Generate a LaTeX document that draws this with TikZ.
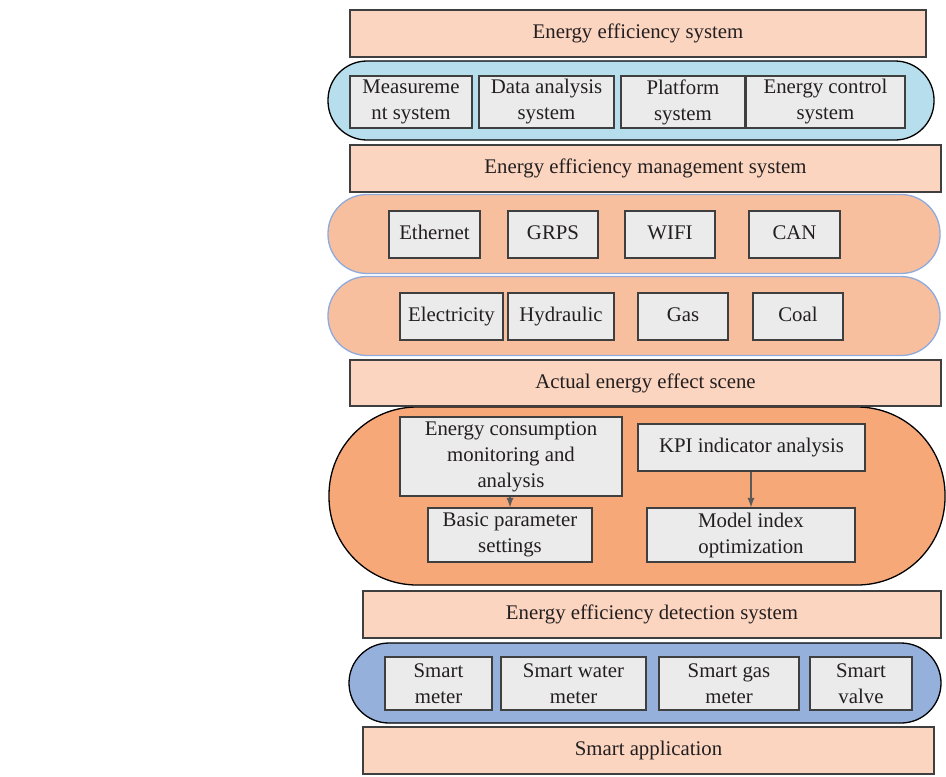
\documentclass[tikz,border=0pt]{standalone}
\usepackage{fontspec}
\setmainfont{Liberation Serif}
\definecolor{barfill}{HTML}{FBD5C0}
\definecolor{bardraw}{HTML}{3F3F3F}
\definecolor{boxfill}{HTML}{EBEBEB}
\definecolor{pillblue}{HTML}{B7DEEC}
\definecolor{pillpeach}{HTML}{F8BF9F}
\definecolor{pillline}{HTML}{8FAADC}
\definecolor{pillorange}{HTML}{F7A879}
\definecolor{pillsteel}{HTML}{95B0DB}
\definecolor{arrowgray}{HTML}{5A5A5A}
\definecolor{textdark}{HTML}{231F20}

\begin{document}
\begin{tikzpicture}[x=0.5pt,y=-0.5pt,
  font=\fontsize{10.4}{13}\selectfont, text=textdark, line width=0.65pt,
  oneline/.style={text height=1.55ex, text depth=0.45ex},
  bar/.style={draw=bardraw, fill=barfill, minimum height=23.5pt, inner sep=0pt, oneline},
  pill/.style={draw, rounded corners=19.5pt, minimum height=39.5pt, inner sep=0pt},
  item/.style={draw=bardraw, fill=boxfill, align=center, inner sep=0pt}]

\useasboundingbox (0,0) rectangle (946,776);

%\draw[red] (0,0) rectangle (946,776);
% layers (pills)
\node[pill, fill=pillblue, minimum width=303pt] (layer1) at (631,100.5) {};
\node[pill, draw=pillline, fill=pillpeach, minimum width=306pt] (layer2) at (634,234) {};
\node[pill, draw=pillline, fill=pillpeach, minimum width=306pt] (layer3) at (634,316) {};
\node[pill, fill=pillorange, minimum width=308pt, minimum height=89pt, rounded corners=44pt] (layer4) at (637,496) {};
\node[pill, fill=pillsteel, minimum width=296pt, minimum height=40pt, rounded corners=20pt] (layer5) at (645,683) {};

% title bars
\node[bar, minimum width=288pt] (effsys) at (638,33.5) {Energy efficiency system};
\node[bar, minimum width=295.5pt] (mgmt) at (645.5,168.5) {Energy efficiency management system};
\node[bar, minimum width=295.5pt, minimum height=23pt] (scene) at (645.5,383) {Actual energy effect scene};
\node[bar, minimum width=289pt] (detect) at (652,614.5) {Energy efficiency detection system};
\node[bar, minimum width=285.5pt] (app) at (648.5,750.5) {Smart application};

% systems
\node[item, minimum width=61pt, minimum height=26pt] (meas) at (411,102) {Measureme\\nt system};
\node[item, minimum width=67.5pt, minimum height=26pt] (data) at (546.5,102) {Data analysis\\system};
\node[item, minimum width=62pt, minimum height=26pt] (plat) at (683,102) {Platform\\system};
\node[item, minimum width=79.5pt, minimum height=26pt] (ctrl) at (825.5,102) {Energy control\\system};

% networks
\node[item, oneline, minimum width=45.5pt, minimum height=23.5pt] (eth) at (434.5,234.5) {Ethernet};
\node[item, oneline, minimum width=45pt, minimum height=23.5pt] (grps) at (553,234.5) {GRPS};
\node[item, oneline, minimum width=45pt, minimum height=23.5pt] (wifi) at (670,234.5) {WIFI};
\node[item, oneline, minimum width=45.5pt, minimum height=23.5pt] (can) at (794.5,234.5) {CAN};

% energy types
\node[item, oneline, minimum width=51.5pt, minimum height=23.5pt] (elec) at (451.5,316.5) {Electricity};
\node[item, oneline, minimum width=53pt, minimum height=23.5pt] (hydr) at (561,316.5) {Hydraulic};
\node[item, oneline, minimum width=45pt, minimum height=23.5pt] (gas) at (683,316.5) {Gas};
\node[item, oneline, minimum width=45pt, minimum height=23.5pt] (coal) at (798,316.5) {Coal};

% scene
\node[item, minimum width=111pt, minimum height=39.5pt] (cons) at (511,456.5) {Energy consumption\\monitoring and\\analysis};
\node[item, oneline, minimum width=113.5pt, minimum height=23.5pt] (kpi) at (751.5,447.5) {KPI indicator analysis};
\node[item, minimum width=82pt, minimum height=27pt] (basic) at (510,535) {Basic parameter\\settings};
\node[item, minimum width=104pt, minimum height=27pt] (model) at (751,535) {Model index\\optimization};

\draw[arrowgray, -latex] (basic.north |- cons.south) -- (basic.north);
\draw[arrowgray, -latex] (model.north |- kpi.south) -- (model.north);

% devices
\node[item, minimum width=53.5pt, minimum height=26.5pt] (smeter) at (438.5,683.5) {Smart\\meter};
\node[item, minimum width=72.5pt, minimum height=26.5pt] (swater) at (573.5,683.5) {Smart water\\meter};
\node[item, minimum width=70pt, minimum height=26.5pt] (sgas) at (729,683.5) {Smart gas\\meter};
\node[item, minimum width=51pt, minimum height=26.5pt] (svalve) at (861,683.5) {Smart\\valve};

\end{tikzpicture}
\end{document}
